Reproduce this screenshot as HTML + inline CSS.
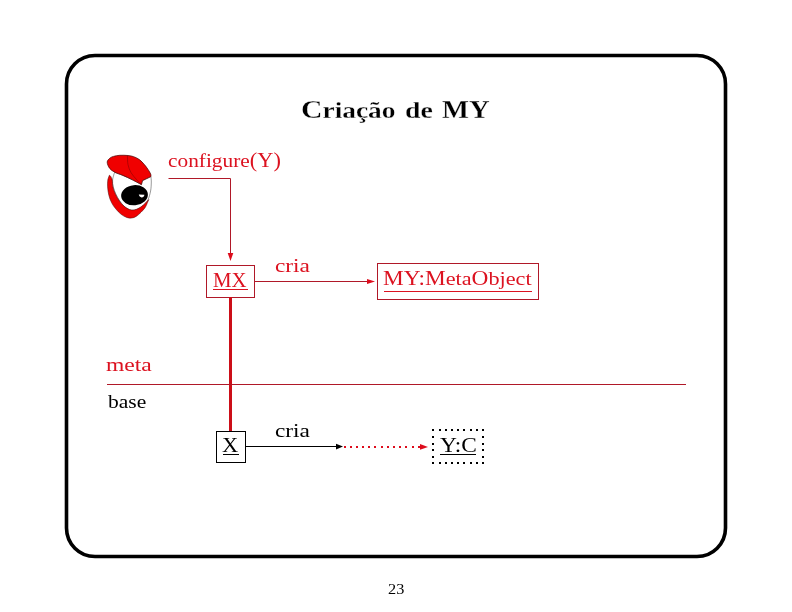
<!DOCTYPE html>
<html><head><meta charset="utf-8">
<style>
html,body{margin:0;padding:0;background:#fff;width:792px;height:612px;overflow:hidden}
svg{position:absolute;left:0;top:0;display:block;will-change:transform}
text{font-family:"Liberation Serif",serif}
.r{fill:#dc1220}
.k{fill:#000}
</style></head><body>
<svg width="792" height="612" viewBox="0 0 792 612">
<rect x="66.5" y="55.5" width="659" height="501" rx="28.5" ry="28.5" fill="none" stroke="#000" stroke-width="3.6"/>
<g>
  <path d="M114.60,172.30 C114.60,172.30 112.82,177.55 112.60,180.00 C112.38,182.45 112.77,184.67 113.30,187.00 C113.83,189.33 114.72,191.67 115.80,194.00 C116.88,196.33 118.30,198.87 119.80,201.00 C121.30,203.13 122.87,205.25 124.80,206.80 C126.73,208.35 129.20,209.93 131.40,210.30 C133.60,210.67 135.98,209.88 138.00,209.00 C140.02,208.12 141.85,206.52 143.50,205.00 C145.15,203.48 146.72,202.23 147.90,199.90 C149.08,197.57 150.03,193.98 150.60,191.00 C151.17,188.02 151.25,184.42 151.30,182.00 C151.35,179.58 150.90,176.50 150.90,176.50 C150.90,176.50 142.50,180.60 142.50,180.60 C142.50,180.60 141.40,184.60 141.40,184.60 C141.40,184.60 135.48,181.33 132.40,179.80 C129.32,178.27 125.87,176.65 122.90,175.40 C119.93,174.15 114.60,172.30 114.60,172.30 Z" fill="#fff" stroke="#333" stroke-width="0.5"/>
  <path d="M109.40,175.20 C109.40,175.20 108.10,178.05 107.80,180.00 C107.50,181.95 107.43,184.38 107.60,186.90 C107.77,189.42 108.15,192.48 108.80,195.10 C109.45,197.72 110.35,200.32 111.50,202.60 C112.65,204.88 114.10,206.85 115.70,208.80 C117.30,210.75 119.28,212.87 121.10,214.30 C122.92,215.73 124.88,216.77 126.60,217.40 C128.32,218.03 129.80,218.27 131.40,218.10 C133.00,217.93 134.60,217.37 136.20,216.40 C137.80,215.43 139.50,213.78 141.00,212.30 C142.50,210.82 144.17,209.00 145.20,207.50 C146.23,206.00 146.60,204.62 147.20,203.30 C147.80,201.98 148.80,199.60 148.80,199.60 C148.80,199.60 147.33,201.15 146.50,202.00 C145.67,202.85 145.05,203.68 143.80,204.70 C142.55,205.72 140.60,207.23 139.00,208.10 C137.40,208.97 135.80,209.67 134.20,209.90 C132.60,210.13 131.12,210.13 129.40,209.50 C127.68,208.87 125.62,207.58 123.90,206.10 C122.18,204.62 120.53,202.67 119.10,200.60 C117.67,198.53 116.33,195.98 115.30,193.70 C114.27,191.42 113.42,189.18 112.90,186.90 C112.38,184.62 112.55,181.73 112.20,180.00 C111.85,178.27 111.27,177.30 110.80,176.50 C110.33,175.70 109.40,175.20 109.40,175.20 Z" fill="#f00000" stroke="#400" stroke-width="0.5"/>
  <path d="M107.20,162.10 C107.23,160.45 108.65,159.25 109.70,158.30 C110.75,157.35 111.82,156.90 113.50,156.40 C115.18,155.90 117.38,155.45 119.80,155.30 C122.22,155.15 125.68,155.27 128.00,155.50 C130.32,155.73 131.80,156.02 133.70,156.70 C135.60,157.38 137.62,158.28 139.40,159.60 C141.18,160.92 142.93,162.92 144.40,164.60 C145.87,166.28 147.15,168.12 148.20,169.70 C149.25,171.28 150.25,172.95 150.70,174.10 C151.15,175.25 150.90,176.60 150.90,176.60 C150.90,176.60 142.50,180.60 142.50,180.60 C142.50,180.60 141.40,184.60 141.40,184.60 C141.40,184.60 135.48,181.33 132.40,179.80 C129.32,178.27 125.85,176.67 122.90,175.40 C119.95,174.13 116.93,173.40 114.70,172.20 C112.47,171.00 110.75,169.88 109.50,168.20 C108.25,166.52 107.17,163.75 107.20,162.10 Z" fill="#f00000" stroke="#400" stroke-width="0.7"/>
  <path d="M127.40,155.60 C127.50,157.10 127.38,161.73 128.00,164.60 C128.62,167.47 129.63,170.27 131.10,172.80 C132.57,175.33 135.12,177.88 136.80,179.80 C138.48,181.72 140.47,183.55 141.20,184.30" fill="none" stroke="#700" stroke-width="0.5"/>
  <ellipse cx="134.5" cy="195.2" rx="13.4" ry="10.1" transform="rotate(-5 134.5 195.2)" fill="#000"/>
  <path d="M138.8,194.6 L144.4,194.7 C144.3,196.6 142.8,197.5 141.6,197.4 C140.2,197.3 139.1,196.2 138.8,194.6 Z" fill="#fff"/>
</g>
<path d="M168.5,178.5 H230.5 V254" fill="none" stroke="#b01828" stroke-width="1"/>
<path d="M227.7,253 L233.3,253 L230.5,261 Z" fill="#dd0c1c"/>
<rect x="206.5" y="265.5" width="48" height="32" fill="none" stroke="#b01828" stroke-width="1"/>
<line x1="213" y1="289.5" x2="248" y2="289.5" stroke="#dc1220" stroke-width="1"/>
<line x1="255" y1="281.5" x2="370" y2="281.5" stroke="#b01828" stroke-width="1"/>
<path d="M367,278.9 L375,281.5 L367,284.1 Z" fill="#dd0c1c"/>
<rect x="377.5" y="263.5" width="161" height="36" fill="none" stroke="#b01828" stroke-width="1"/>
<line x1="384" y1="291.5" x2="532" y2="291.5" stroke="#dc1220" stroke-width="1"/>
<line x1="230.5" y1="297" x2="230.5" y2="431" stroke="#cc0e18" stroke-width="3"/>
<line x1="107" y1="384.5" x2="686" y2="384.5" stroke="#b01828" stroke-width="1"/>
<rect x="216.5" y="431.5" width="29" height="31" fill="none" stroke="#000" stroke-width="1"/>
<line x1="223" y1="454.5" x2="239" y2="454.5" stroke="#000" stroke-width="1"/>
<line x1="246" y1="446.5" x2="338" y2="446.5" stroke="#000" stroke-width="1"/>
<path d="M336,443.8 L343,446.6 L336,449.4 Z" fill="#000"/>
<g fill="#dd0c1c"><rect x="344" y="446" width="2" height="2"/><rect x="350" y="446" width="2" height="2"/><rect x="356" y="446" width="2" height="2"/><rect x="362" y="446" width="2" height="2"/><rect x="368" y="446" width="2" height="2"/><rect x="374" y="446" width="2" height="2"/><rect x="381" y="446" width="2" height="2"/><rect x="387" y="446" width="2" height="2"/><rect x="393" y="446" width="2" height="2"/><rect x="399" y="446" width="2" height="2"/><rect x="405" y="446" width="2" height="2"/><rect x="412" y="446" width="2" height="2"/><rect x="418" y="446" width="2" height="2"/></g>
<path d="M420,444 L428,446.9 L420,449.8 Z" fill="#dd0c1c"/>
<g fill="#000"><rect x="432" y="429" width="2" height="2"/><rect x="432" y="462" width="2" height="2"/><rect x="439" y="429" width="2" height="2"/><rect x="439" y="462" width="2" height="2"/><rect x="445" y="429" width="2" height="2"/><rect x="445" y="462" width="2" height="2"/><rect x="451" y="429" width="2" height="2"/><rect x="451" y="462" width="2" height="2"/><rect x="457" y="429" width="2" height="2"/><rect x="457" y="462" width="2" height="2"/><rect x="463" y="429" width="2" height="2"/><rect x="463" y="462" width="2" height="2"/><rect x="470" y="429" width="2" height="2"/><rect x="470" y="462" width="2" height="2"/><rect x="476" y="429" width="2" height="2"/><rect x="476" y="462" width="2" height="2"/><rect x="482" y="429" width="2" height="2"/><rect x="482" y="462" width="2" height="2"/><rect x="432" y="436" width="2" height="2"/><rect x="482" y="436" width="2" height="2"/><rect x="432" y="443" width="2" height="2"/><rect x="482" y="443" width="2" height="2"/><rect x="432" y="449" width="2" height="2"/><rect x="482" y="449" width="2" height="2"/><rect x="432" y="456" width="2" height="2"/><rect x="482" y="456" width="2" height="2"/></g>
<line x1="440" y1="454.5" x2="476" y2="454.5" stroke="#000" stroke-width="1"/>
<g transform="translate(301.000 0) scale(1.1664 1)"><text id="t1" x="0" y="117.8" class="k" font-weight="bold" stroke="#fff" stroke-width="0.25"><tspan font-size="25.5">C</tspan><tspan font-size="23.5">riação</tspan></text></g>
<g transform="translate(405.000 0) scale(1.1836 1)"><text id="t2" x="0" y="117.8" class="k" font-weight="bold" stroke="#fff" stroke-width="0.25"><tspan font-size="23.5">de</tspan></text></g>
<g transform="translate(442.000 0) scale(1.1220 1)"><text id="t3" x="0" y="117.8" class="k" font-weight="bold" stroke="#fff" stroke-width="0.25"><tspan font-size="25.5">MY</tspan></text></g>
<g transform="translate(168.000 0) scale(1.0777 1)"><text id="cfg" x="0" y="166.7" class="r"><tspan font-size="19.8">configure</tspan><tspan font-size="20.8">(Y)</tspan></text></g>
<g transform="translate(275.000 0) scale(1.1786 1)"><text id="cr1" x="0" y="271.8" class="r"><tspan font-size="19.8">cria</tspan></text></g>
<g transform="translate(213.000 0) scale(1.0039 1)"><text id="mx" x="0" y="286.9" class="r"><tspan font-size="20.8">MX</tspan></text></g>
<g transform="translate(383.000 0) scale(1.1223 1)"><text id="mo" x="0" y="284.7" class="r"><tspan font-size="20.8">MY:M</tspan><tspan font-size="19.8">eta</tspan><tspan font-size="20.8">O</tspan><tspan font-size="19.8">bject</tspan></text></g>
<g transform="translate(106.000 0) scale(1.1904 1)"><text id="meta" x="0" y="370.7" class="r"><tspan font-size="19.8">meta</tspan></text></g>
<g transform="translate(108.000 0) scale(1.0890 1)"><text id="base" x="0" y="407.9" class="k"><tspan font-size="19.8">base</tspan></text></g>
<g transform="translate(222.000 0) scale(1.0817 1)"><text id="x" x="0" y="451.8" class="k"><tspan font-size="20.8">X</tspan></text></g>
<g transform="translate(275.000 0) scale(1.1786 1)"><text id="cr2" x="0" y="437" class="k"><tspan font-size="19.8">cria</tspan></text></g>
<g transform="translate(440.000 0) scale(1.1250 1)"><text id="yc" x="0" y="451.6" class="k"><tspan font-size="20.8">Y:C</tspan></text></g>
<g transform="translate(388.000 0) scale(1.0860 1)"><text id="pg" x="0" y="594" class="k"><tspan font-size="15">23</tspan></text></g>
</svg>
</body></html>
